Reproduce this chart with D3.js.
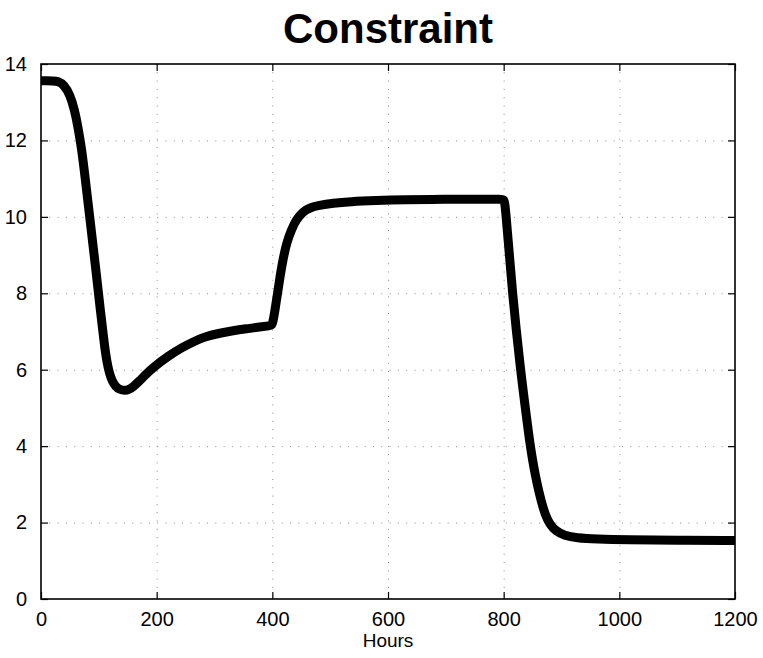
<!DOCTYPE html>
<html>
<head>
<meta charset="utf-8">
<script src="https://cdn.jsdelivr.net/npm/d3@7"></script>
<style>
  html, body { margin: 0; padding: 0; background: #fff; }
  svg { display: block; }
  text { font-family: "Liberation Sans", Arial, Helvetica, sans-serif; fill: #000; }
</style>
</head>
<body>
<svg id="chart" width="763" height="658"></svg>
<script>
const title = "Constraint";
const xLabel = "Hours";
const xTicks = [0, 200, 400, 600, 800, 1000, 1200];
const yTicks = [0, 2, 4, 6, 8, 10, 12, 14];
const hours = [0, 10, 20, 30, 40, 50, 58, 64, 70, 75, 85, 95, 103, 110, 114, 118, 123, 129, 136, 145, 152, 160, 170, 180, 195, 220, 246, 265, 284, 310, 332, 355, 379, 396, 399, 401, 404, 408, 412, 417, 425, 433, 441, 453, 465, 480, 505, 534, 580, 626, 700, 760, 798, 800, 802, 805, 815, 829, 840, 846, 852, 858, 865, 872, 880, 890, 905, 926, 960, 1013, 1100, 1200];
const values = [13.56, 13.56, 13.56, 13.55, 13.45, 13.2, 12.8, 12.35, 11.8, 11.2, 9.9, 8.6, 7.5, 6.6, 6.2, 5.92, 5.7, 5.56, 5.48, 5.45, 5.48, 5.56, 5.7, 5.86, 6.07, 6.36, 6.6, 6.74, 6.87, 6.96, 7.02, 7.07, 7.12, 7.15, 7.16, 7.25, 7.5, 7.9, 8.3, 8.78, 9.35, 9.66, 9.92, 10.14, 10.24, 10.3, 10.36, 10.4, 10.43, 10.45, 10.46, 10.46, 10.46, 10.45, 10.38, 9.9, 8.0, 6.0, 4.7, 4.0, 3.45, 3.0, 2.55, 2.2, 1.95, 1.78, 1.66, 1.6, 1.57, 1.55, 1.54, 1.53];

const svg = d3.select("#chart");
const L = 41, R = 735, T = 64, B = 599;
const x = d3.scaleLinear().domain([0, 1200]).range([L, R]);
const y = d3.scaleLinear().domain([0, 14]).range([B, T]);

// grid
const grid = svg.append("g").attr("stroke", "#8a8a8a").attr("stroke-width", 1).attr("stroke-dasharray", "1,7.3");
grid.selectAll("line.v").data(xTicks.slice(1, -1)).join("line")
  .attr("x1", d => x(d) + 0.5).attr("x2", d => x(d) + 0.5).attr("y1", T).attr("y2", B);
grid.selectAll("line.h").data(yTicks.slice(1, -1)).join("line")
  .attr("y1", d => y(d) + 0.5).attr("y2", d => y(d) + 0.5).attr("x1", L).attr("x2", R);

// data line
const line = d3.line().x((d, i) => x(hours[i])).y((d, i) => y(values[i])).curve(d3.curveBasis);
svg.append("path").datum(values).attr("d", line)
  .attr("fill", "none").attr("stroke", "#000").attr("stroke-width", 9)
  .attr("stroke-linejoin", "round").attr("stroke-linecap", "butt");

// axes (inward ticks on all sides)
const tl = 7;
svg.append("g").attr("transform", `translate(0,${B})`)
  .call(d3.axisBottom(x).tickValues(xTicks).tickSize(-tl).tickPadding(tl + 6).tickFormat(d3.format("d")))
  .call(g => { g.select(".domain").remove(); g.selectAll("text").attr("font-size", 20).attr("font-family", "Liberation Sans, Arial, sans-serif"); });
svg.append("g").attr("transform", `translate(${L},0)`)
  .call(d3.axisLeft(y).tickValues(yTicks).tickSize(-tl).tickPadding(tl + 7).tickFormat(d3.format("d")))
  .call(g => { g.select(".domain").remove(); g.selectAll("text").attr("font-size", 20).attr("font-family", "Liberation Sans, Arial, sans-serif"); });
svg.append("g").attr("transform", `translate(0,${T})`)
  .call(d3.axisTop(x).tickValues(xTicks).tickSize(-tl).tickFormat(""))
  .call(g => g.select(".domain").remove());
svg.append("g").attr("transform", `translate(${R},0)`)
  .call(d3.axisRight(y).tickValues(yTicks).tickSize(-tl).tickFormat(""))
  .call(g => g.select(".domain").remove());
svg.selectAll(".tick line").attr("stroke", "#000").attr("stroke-width", 1.2);

svg.append("rect").attr("x", L).attr("y", T).attr("width", R - L).attr("height", B - T)
  .attr("fill", "none").attr("stroke", "#000").attr("stroke-width", 1.6);

// title and label
svg.append("text").attr("x", (L + R) / 2).attr("y", 43).attr("text-anchor", "middle")
  .attr("font-size", 42).attr("font-weight", "bold").text(title);
svg.append("text").attr("x", (L + R) / 2).attr("y", 647).attr("text-anchor", "middle")
  .attr("font-size", 19).text(xLabel);
</script>
</body>
</html>
